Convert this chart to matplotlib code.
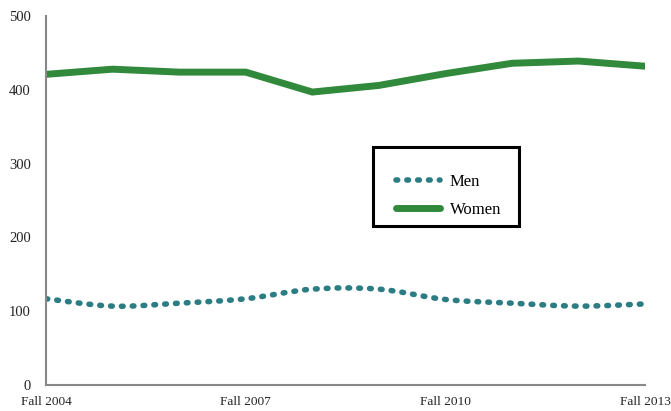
import numpy as np
import matplotlib
matplotlib.use("Agg")
from matplotlib import pyplot as plt
from matplotlib.path import Path
from matplotlib.patches import PathPatch, Rectangle
from matplotlib.lines import Line2D

# data
years = ["Fall 2004", "Fall 2005", "Fall 2006", "Fall 2007", "Fall 2008",
         "Fall 2009", "Fall 2010", "Fall 2011", "Fall 2012", "Fall 2013"]
men = [117, 107, 111, 117, 130, 130, 116, 111, 107, 110]
women = [421, 428, 424, 424, 397, 406, 422, 436, 439, 432]
shown_ticks = ["Fall 2004", "Fall 2007", "Fall 2010", "Fall 2013"]

GREEN = "#318a3c"
TEAL = "#2c7c84"

plt.rcParams["font.family"] = ["Liberation Serif", "DejaVu Serif"]

# smooth curve (Catmull-Rom as bezier) for the men's line, like the original
def smooth_path(xs, ys):
    pts = list(zip(xs, ys))
    verts = [pts[0]]
    codes = [Path.MOVETO]
    for i in range(len(pts) - 1):
        p0 = pts[i - 1] if i > 0 else pts[i]
        p1 = pts[i]
        p2 = pts[i + 1]
        p3 = pts[i + 2] if i + 2 < len(pts) else pts[i + 1]
        c1 = (p1[0] + (p2[0] - p0[0]) / 6, p1[1] + (p2[1] - p0[1]) / 6)
        c2 = (p2[0] - (p3[0] - p1[0]) / 6, p2[1] - (p3[1] - p1[1]) / 6)
        verts += [c1, c2, p2]
        codes += [Path.CURVE4] * 3
    return Path(verts, codes)

fig = plt.figure(figsize=(6.71, 4.11), dpi=100)
ax = fig.add_axes([0.0686, 0.063, 0.893, 0.898])

x = np.arange(len(years))
ax.plot(x, women, color=GREEN, lw=5, solid_capstyle="butt", solid_joinstyle="miter")
patch = PathPatch(smooth_path(x, men), fill=False, edgecolor=TEAL, lw=4,
                  linestyle=(0, (0.3, 1.65)), capstyle="round")
ax.add_patch(patch)

ax.set_xlim(0, len(years) - 1)
ax.set_ylim(0, 500)
ax.set_yticks([0, 100, 200, 300, 400, 500])
ax.set_xticks([years.index(t) for t in shown_ticks])
ax.set_xticklabels(shown_ticks)
ax.tick_params(length=0, labelsize=10.5, colors="#222222")
ax.tick_params(axis="x", labelsize=9.6, pad=8)
ax.tick_params(axis="y", pad=11)
for s in ["top", "right"]:
    ax.spines[s].set_visible(False)
for s in ["left", "bottom"]:
    ax.spines[s].set_color("#888888")
    ax.spines[s].set_linewidth(1.5)

# legend box drawn separately so the entries can sit low inside it
box = Rectangle((0.546, 0.431), 0.244, 0.214, transform=ax.transAxes,
                facecolor="white", edgecolor="black", lw=2.2, zorder=4.9)
ax.add_patch(box)

handles = [Line2D([], [], color=TEAL, lw=4, linestyle=(0, (0.3, 1.65)),
                  dash_capstyle="round"),
           Line2D([], [], color=GREEN, lw=5, solid_capstyle="round")]
leg = ax.legend(handles, ["Men", "Women"], loc="upper left",
                bbox_to_anchor=(0.554, 0.623), frameon=False,
                fontsize=12, handlelength=2.6, borderpad=1.1, labelspacing=0.75,
                handletextpad=0.6, borderaxespad=0)

fig.savefig("out.png", dpi=100)
